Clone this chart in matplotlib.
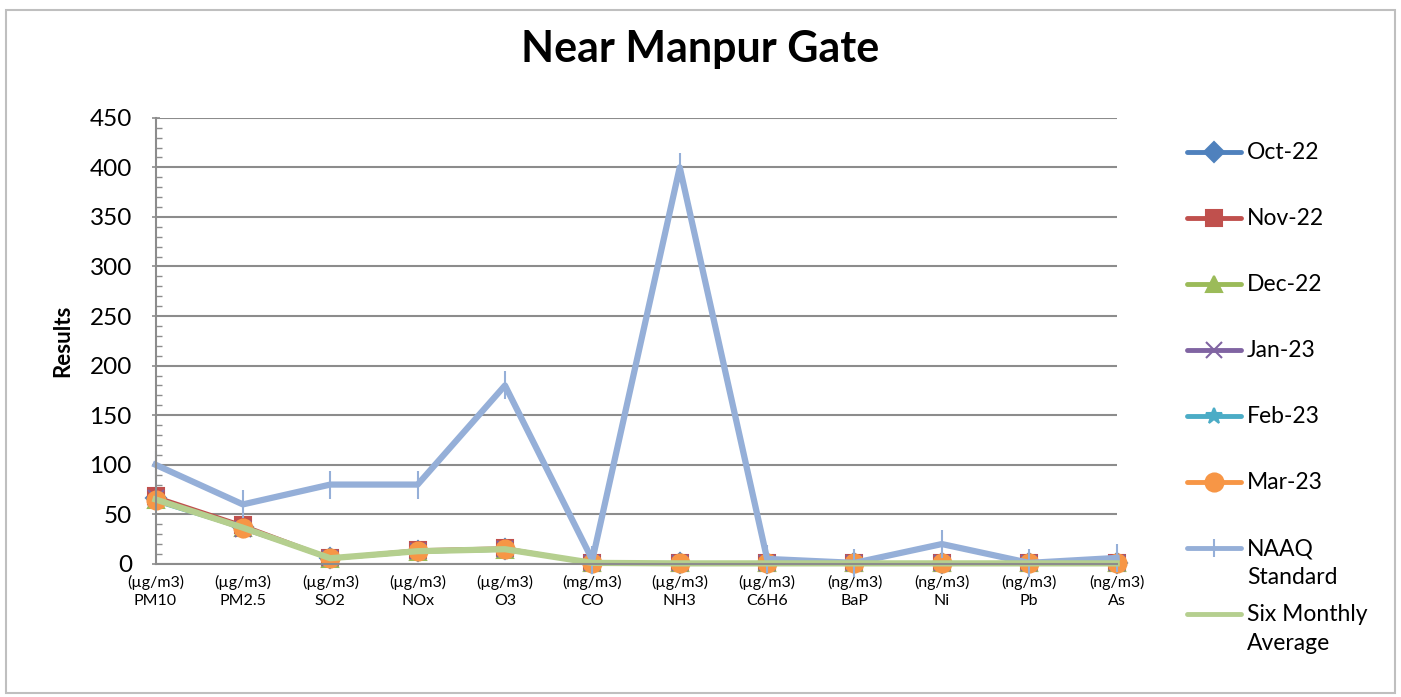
# Near Manpur Gate - monthly air quality results vs NAAQ standard

import matplotlib
matplotlib.use('Agg')
import matplotlib.pyplot as plt
from matplotlib.lines import Line2D
from matplotlib.patches import Rectangle
import numpy as np

plt.rcParams['font.family'] = ['Lato', 'DejaVu Sans']

categories = ['(µg/m3)\nPM10', '(µg/m3)\nPM2.5', '(µg/m3)\nSO2', '(µg/m3)\nNOx',
              '(µg/m3)\nO3', '(mg/m3)\nCO', '(µg/m3)\nNH3', '(µg/m3)\nC6H6',
              '(ng/m3)\nBaP', '(ng/m3)\nNi', '(ng/m3)\nPb', '(ng/m3)\nAs']

oct22 = [66, 37, 6, 13, 15, 1, 0.5, 0.5, 0.5, 0.5, 0.5, 0.5]
nov22 = [68, 39, 6, 14, 16, 1, 0.5, 0.5, 0.5, 0.5, 0.5, 0.5]
dec22 = [64, 36, 5, 12, 14, 1, 0.5, 0.5, 0.5, 0.5, 0.5, 0.5]
jan23 = [66, 35, 6, 13, 15, 1, 0.5, 0.5, 0.5, 0.5, 0.5, 0.5]
feb23 = [63, 36, 5, 12, 14, 1, 0.5, 0.5, 0.5, 0.5, 0.5, 0.5]
mar23 = [64, 36, 6, 13, 15, 1, 0.5, 0.5, 0.5, 0.5, 0.5, 0.5]
naaq = [100, 60, 80, 80, 180, 4, 400, 5, 1, 20, 1, 6]
six_month_avg = [65, 36.5, 5.7, 12.8, 14.8, 1, 0.5, 0.5, 0.5, 0.5, 0.5, 0.5]

series = [
    ('Oct-22', oct22, '#4F81BD', 'D', 10),
    ('Nov-22', nov22, '#C0504D', 's', 12),
    ('Dec-22', dec22, '#9BBB59', '^', 12),
    ('Jan-23', jan23, '#8064A2', 'x', 11),
    ('Feb-23', feb23, '#4BACC6', '*', 12),
    ('Mar-23', mar23, '#F79646', 'o', 13),
]
naaq_col = '#95AFD8'
avg_col = '#B5CF8F'

fig = plt.figure(figsize=(14.01, 6.97), dpi=100)
ax = fig.add_axes([0.111, 0.191, 0.686, 0.640])

x = np.arange(len(categories))
for name, vals, col, mk, ms in series:
    ax.plot(x, vals, color=col, lw=2.5, marker=mk, markersize=ms,
            markeredgecolor=col, markeredgewidth=1.5, label=name, clip_on=False)
ax.plot(x, naaq, color=naaq_col, lw=4.5, marker='|', markersize=20,
        markeredgewidth=1.5, label='NAAQ\nStandard', clip_on=False)
ax.plot(x, six_month_avg, color=avg_col, lw=4.5, label='Six Monthly\nAverage',
        clip_on=False)

ax.set_xlim(0, 11)
ax.set_ylim(0, 450)
ax.set_yticks(np.arange(0, 451, 50))
ax.set_yticks(np.arange(0, 451, 10), minor=True)
ax.yaxis.grid(True, color='#8C8C8C', lw=1.5)
ax.set_axisbelow(True)
ax.set_xticks(x)
ax.set_xticklabels(categories, fontsize=11.5, linespacing=1.4)
ax.tick_params(axis='x', length=0, pad=8)
ax.tick_params(axis='y', which='major', labelsize=17.5, length=6, direction='inout',
               color='#8C8C8C', width=1.2, pad=14)
ax.tick_params(axis='y', which='minor', length=4, direction='in', color='#8C8C8C', width=1)
for s in ['top', 'right']:
    ax.spines[s].set_visible(False)
for s in ['left', 'bottom']:
    ax.spines[s].set_color('#8C8C8C')
    ax.spines[s].set_linewidth(1.5)
ax.set_ylabel('Results', fontsize=16, fontweight='bold', labelpad=12)

fig.text(0.5, 0.93, 'Near Manpur Gate', ha='center', va='center',
         fontsize=31, fontweight='bold')

# legend drawn entry by entry so the line sits on the first text row
leg_items = [(n, c, m, ms) for n, _, c, m, ms in series]
leg_items.append(('NAAQ\nStandard', naaq_col, '|', 13))
leg_items.append(('Six Monthly\nAverage', avg_col, None, 0))
y0 = 152
for i, (name, col, mk, ms) in enumerate(leg_items):
    yy = 1 - (y0 + 66 * i) / 697
    fig.add_artist(Line2D([1187 / 1401, 1241 / 1401], [yy, yy], color=col, lw=3.5,
                          solid_capstyle='round', transform=fig.transFigure))
    if mk:
        fig.add_artist(Line2D([1214 / 1401], [yy], color=col, marker=mk, markersize=ms,
                              markeredgecolor=col, markeredgewidth=1.5,
                              transform=fig.transFigure))
    fig.text(1247 / 1401, yy + 0.014, name, ha='left', va='top', fontsize=16.5,
             linespacing=1.45)

fig.add_artist(Rectangle((6 / 1401, 4 / 697), 1389 / 1401, 683 / 697, fill=False,
                         edgecolor='#BFBFBF', lw=1.5, transform=fig.transFigure))

fig.savefig('out.png', dpi=100)
